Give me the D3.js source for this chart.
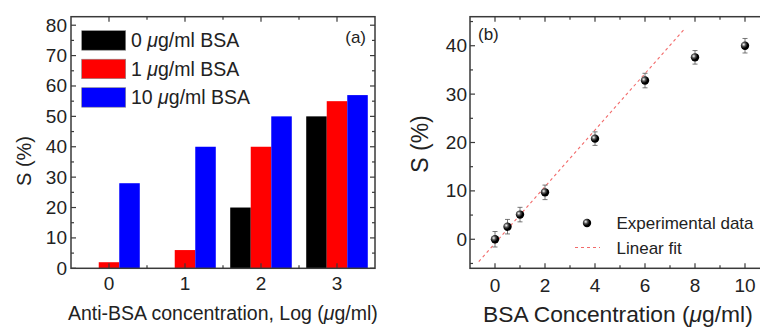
<!DOCTYPE html>
<html><head><meta charset="utf-8">
<script src="https://cdn.jsdelivr.net/npm/d3@7"></script>
<style>
body{margin:0;background:#fff;}
svg{display:block;font-family:"Liberation Sans",Arial,sans-serif;}
</style></head><body>
<svg id="c" width="760" height="327"></svg>
<script>
// ---- Panel (a) data ----
const categoriesA = [0, 1, 2, 3];
const seriesNamesA = ["0", "1", "10"];
const bsa0 = [0, 0, 20, 50];
const bsa1 = [2, 6, 40, 55];
const bsa10 = [28, 40, 50, 57];
const colorsA = ["#000000", "#ff0000", "#0000ff"];
const yTicksA = [0, 10, 20, 30, 40, 50, 60, 70, 80];

// ---- Panel (b) data ----
const concB = [0, 0.5, 1, 2, 4, 6, 8, 10];
const sB = [0, 2.6, 5.1, 9.7, 20.8, 32.8, 37.6, 40.0];
const errB = [1.6, 1.5, 1.5, 1.5, 1.4, 1.5, 1.4, 1.5];
const fitX = [-0.65, 7.6];
const fitY = [-4.6, 43.6];
const xTicksB = [0, 2, 4, 6, 8, 10];
const yTicksB = [0, 10, 20, 30, 40];

const svg = d3.select("#c");
const frameColor = "#3a3a3a";

const defs = svg.append("defs");
const g = defs.append("radialGradient").attr("id","sph").attr("cx","0.35").attr("cy","0.35").attr("r","0.65");
g.append("stop").attr("offset","0").attr("stop-color","#ffffff");
g.append("stop").attr("offset","0.35").attr("stop-color","#555");
g.append("stop").attr("offset","0.7").attr("stop-color","#000");
g.append("stop").attr("offset","1").attr("stop-color","#000");

function drawTicks(gp, scale, vals, orient, len, y0, y1, x0, x1) {
  vals.forEach(v => {
    const p = scale(v);
    if (orient === "x") {
      gp.append("line").attr("x1",p).attr("x2",p).attr("y1",y1).attr("y2",y1-len).attr("stroke",frameColor).attr("stroke-width",1.2);
      gp.append("line").attr("x1",p).attr("x2",p).attr("y1",y0).attr("y2",y0+len).attr("stroke",frameColor).attr("stroke-width",1.2);
    } else {
      gp.append("line").attr("y1",p).attr("y2",p).attr("x1",x0).attr("x2",x0+len).attr("stroke",frameColor).attr("stroke-width",1.2);
      if (x1 != null) gp.append("line").attr("y1",p).attr("y2",p).attr("x1",x1).attr("x2",x1-len).attr("stroke",frameColor).attr("stroke-width",1.2);
    }
  });
}

// ================= Panel (a) =================
{
  const L = 71, R = 375, T = 16.7, B = 268.3;
  const x = d3.scaleLinear().domain([-0.5, 3.5]).range([L, R]);
  const y = d3.scaleLinear().domain([0, 82.8]).range([B, T]);
  const bw = 0.27;
  const gA = svg.append("g");
  const series = [bsa0, bsa1, bsa10];
  series.forEach((vals, si) => {
    gA.selectAll(null).data(categoriesA).enter().append("rect")
      .attr("x", (d,i) => x(d + (si - 1) * bw - bw/2))
      .attr("width", x(bw) - x(0))
      .attr("y", (d,i) => y(vals[i]))
      .attr("height", (d,i) => y(0) - y(vals[i]))
      .attr("fill", colorsA[si]);
  });
  gA.append("rect").attr("x",L).attr("y",T).attr("width",R-L).attr("height",B-T)
    .attr("fill","none").attr("stroke",frameColor).attr("stroke-width",1.5);
  drawTicks(gA, x, categoriesA, "x", 5, T, B);
  drawTicks(gA, x, [0.5, 1.5, 2.5], "x", 3, T, B);
  drawTicks(gA, y, yTicksA, "y", 5, T, B, L, R);
  drawTicks(gA, y, [5,15,25,35,45,55,65,75], "y", 3, T, B, L, R);
  gA.selectAll(null).data(yTicksA).enter().append("text")
    .attr("x", L - 4).attr("y", d => y(d) + 6.5).attr("text-anchor","end")
    .attr("font-size", 19).attr("fill","#222").text(d => d);
  gA.selectAll(null).data(categoriesA).enter().append("text")
    .attr("x", d => x(d)).attr("y", 290).attr("text-anchor","middle")
    .attr("font-size", 19).attr("fill","#222").text(d => d);
  gA.append("text").attr("transform","translate(31,161) rotate(-90)").attr("text-anchor","middle")
    .attr("font-size", 20).attr("fill","#222").text("S (%)");
  const xt = gA.append("text").attr("x", 68).attr("y", 320).attr("font-size", 19.5).attr("fill","#222");
  xt.append("tspan").text("Anti-BSA concentration, Log (");
  xt.append("tspan").attr("font-style","italic").text("μ");
  xt.append("tspan").text("g/ml)");
  const legY = [30.7, 59.2, 87.7];
  seriesNamesA.forEach((n, i) => {
    gA.append("rect").attr("x", 81.7).attr("y", legY[i]).attr("width", 44).attr("height", 19.5)
      .attr("fill", colorsA[i]).attr("stroke", "#888").attr("stroke-width", 0.6);
    const t = gA.append("text").attr("x", 131).attr("y", legY[i] + 16.5).attr("font-size", 19.5).attr("fill","#222");
    t.append("tspan").text(n + " ");
    t.append("tspan").attr("font-style","italic").text("μ");
    t.append("tspan").text("g/ml BSA");
  });
  gA.append("text").attr("x", 366).attr("y", 43).attr("text-anchor","end").attr("font-size", 17).attr("fill","#222").text("(a)");
}

// ================= Panel (b) =================
{
  const L = 470, R = 770, T = 16.7, B = 268.3;
  const x = d3.scaleLinear().domain([-1, 11]).range([L, R]);
  const y = d3.scaleLinear().domain([-6, 46]).range([B, T]);
  const gB = svg.append("g");
  gB.append("rect").attr("x",L).attr("y",T).attr("width",R-L).attr("height",B-T)
    .attr("fill","none").attr("stroke",frameColor).attr("stroke-width",1.5);
  drawTicks(gB, x, xTicksB, "x", 5, T, B);
  drawTicks(gB, x, [1,3,5,7,9], "x", 3, T, B);
  drawTicks(gB, y, yTicksB, "y", 5, T, B, L, null);
  drawTicks(gB, y, [-5,5,15,25,35,45], "y", 3, T, B, L, null);
  gB.selectAll(null).data(yTicksB).enter().append("text")
    .attr("x", L - 3).attr("y", d => y(d) + 6.5).attr("text-anchor","end")
    .attr("font-size", 19).attr("fill","#222").text(d => d);
  gB.selectAll(null).data(xTicksB).enter().append("text")
    .attr("x", d => x(d)).attr("y", 291.5).attr("text-anchor","middle")
    .attr("font-size", 19).attr("fill","#222").text(d => d);
  gB.append("text").attr("transform","translate(428,144) rotate(-90)").attr("text-anchor","middle")
    .attr("font-size", 23).attr("fill","#222").text("S (%)");
  const xt = gB.append("text").attr("x", 483).attr("y", 322).attr("font-size", 22.8).attr("fill","#222");
  xt.append("tspan").text("BSA Concentration (");
  xt.append("tspan").attr("font-style","italic").text("μ");
  xt.append("tspan").text("g/ml)");
  gB.append("line").attr("x1", x(fitX[0])).attr("y1", y(fitY[0])).attr("x2", x(fitX[1])).attr("y2", y(fitY[1]))
    .attr("stroke","#f26a6a").attr("stroke-width",1.1).attr("stroke-dasharray","3,3");
  concB.forEach((c, i) => {
    const px = x(c);
    gB.append("line").attr("x1",px).attr("x2",px).attr("y1",y(sB[i]-errB[i])).attr("y2",y(sB[i]+errB[i])).attr("stroke","#555").attr("stroke-width",0.8);
    [sB[i]-errB[i], sB[i]+errB[i]].forEach(v => {
      gB.append("line").attr("x1",px-2.5).attr("x2",px+2.5).attr("y1",y(v)).attr("y2",y(v)).attr("stroke","#555").attr("stroke-width",0.8);
    });
  });
  gB.selectAll(null).data(concB).enter().append("circle")
    .attr("cx", d => x(d)).attr("cy", (d,i) => y(sB[i])).attr("r", 4.2).attr("fill","url(#sph)");
  gB.append("circle").attr("cx", 587).attr("cy", 223).attr("r", 4.2).attr("fill","url(#sph)");
  gB.append("text").attr("x", 616.5).attr("y", 228.5).attr("font-size", 17).attr("fill","#222").text("Experimental data");
  gB.append("line").attr("x1",575).attr("x2",600).attr("y1",247.5).attr("y2",247.5)
    .attr("stroke","#f26a6a").attr("stroke-width",1.1).attr("stroke-dasharray","3,3");
  gB.append("text").attr("x", 616.5).attr("y", 254).attr("font-size", 17).attr("fill","#222").text("Linear fit");
  gB.append("text").attr("x", 478).attr("y", 40).attr("font-size", 17).attr("fill","#222").text("(b)");
}
</script>
</body></html>
